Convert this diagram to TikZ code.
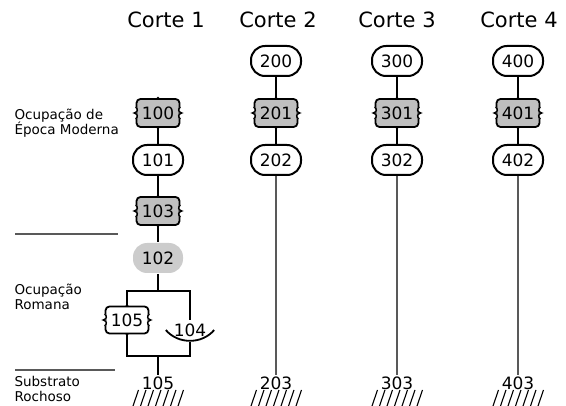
\documentclass[tikz,border=0pt]{standalone}
\usepackage{fontspec}
\setmainfont{DejaVu Sans}
\tikzset{
  unit/.style={draw, line width=2pt, rounded corners=14pt, fill=white,
    minimum width=50pt, minimum height=30pt, inner sep=1pt,
    font=\fontsize{17}{19}\selectfont},
  interf/.style={draw, line width=1.8pt, rounded corners=4pt, fill=gray!50,
    minimum width=43pt, minimum height=28pt, inner sep=1pt,
    font=\fontsize{17}{19}\selectfont},
  fillunit/.style={unit, draw=none, fill=gray!40},
  plain/.style={inner sep=1pt, font=\fontsize{17}{19}\selectfont},
  conn/.style={line width=1.8pt},
  longconn/.style={line width=1.4pt, gray!70!black},
  hatch/.style={line width=1.1pt},
  sep/.style={line width=1.3pt, gray!70!black},
  side/.style={align=left, anchor=west, font=\fontsize{13.5}{15.5}\selectfont},
  head/.style={font=\fontsize{21}{23}\selectfont}
}
% brace-like notches on the sides of a box
\newcommand{\sidenotch}[2]{%
  \fill[white] ([shift={(-1.4pt,-6pt)}]#1.west) rectangle ([shift={(0pt,6pt)}]#1.west);
  \fill[#2] ([shift={(0pt,-6pt)}]#1.west) rectangle ([shift={(1.4pt,6pt)}]#1.west);
  \fill[white] ([shift={(1.4pt,-6pt)}]#1.east) rectangle ([shift={(0pt,6pt)}]#1.east);
  \fill[#2] ([shift={(0pt,-6pt)}]#1.east) rectangle ([shift={(-1.4pt,6pt)}]#1.east);
  \draw[line width=1.4pt] ([shift={(0pt,6pt)}]#1.west)
    .. controls ([shift={(2.5pt,4pt)}]#1.west) and ([shift={(2.5pt,1pt)}]#1.west) .. ([shift={(-1.5pt,0pt)}]#1.west)
    .. controls ([shift={(2.5pt,-1pt)}]#1.west) and ([shift={(2.5pt,-4pt)}]#1.west) .. ([shift={(0pt,-6pt)}]#1.west);
  \draw[line width=1.4pt] ([shift={(0pt,6pt)}]#1.east)
    .. controls ([shift={(-2.5pt,4pt)}]#1.east) and ([shift={(-2.5pt,1pt)}]#1.east) .. ([shift={(1.5pt,0pt)}]#1.east)
    .. controls ([shift={(-2.5pt,-1pt)}]#1.east) and ([shift={(-2.5pt,-4pt)}]#1.east) .. ([shift={(0pt,-6pt)}]#1.east);
  \fill (#1.north) circle (1.5pt);
  \fill (#1.south) circle (1.5pt);
}
\begin{document}
\begin{tikzpicture}[x=1pt,y=-1pt]
\useasboundingbox (0,0) rectangle (566,406);

% Headers
\node[head] (h1) at (166,20) {Corte 1};
\node[head] (h2) at (278,20) {Corte 2};
\node[head] (h3) at (397,20) {Corte 3};
\node[head] (h4) at (519,20) {Corte 4};

% Left labels
\node[side] (l1) at (11,123) {Ocupação de\\Época Moderna};
\node[side] (l2) at (11,297) {Ocupação\\Romana};
\node[side] (l3) at (11,389) {Substrato\\Rochoso};
\draw[sep] (15,234) -- (118,234);
\draw[sep] (15,370) -- (115,370);

% Corte 1
\node[interf] (c100) at (158,113) {100};
\node[unit] (c101) at (158,160) {101};
\node[interf] (c103) at (158,211) {103};
\node[fillunit] (c102) at (158,258) {102};
\node[interf, fill=white, minimum width=43pt, minimum height=27pt] (c105) at (127,320) {105};
\node[plain, minimum width=48pt, minimum height=20pt] (c104) at (190,330) {104};
\node[plain] (c105b) at (158,383) {105};
\coordinate (b1) at (158,291);
\coordinate (br) at (190,291);
\coordinate (bowl) at (190,342);
\coordinate (b2) at (158,356);
\coordinate (br2) at (190,356);

\draw[conn] (c100) -- (c101);
\draw[conn] (c101) -- (c103);
\draw[conn] (c103) -- (c102);
\draw[conn] (c102) -- (b1);
\draw[conn] (c105.north) |- (br) -- (c104.north);
\draw[conn] (c105.south) |- (br2) -- (bowl);
\draw[conn] (c104.west) to[bend right=50] (c104.east);
\draw[conn] (b2) -- (c105b);
\sidenotch{c100}{gray!50}
\sidenotch{c103}{gray!50}
\sidenotch{c105}{white}
\foreach \i in {0,...,6} {
    \draw[hatch] (\i*7.5+133, 406) -- ++(5.5,-16);
}

% Cortes 2 to 4
\foreach \c/\x in {2/276, 3/397, 4/518} {
    \node[unit] (c\c00) at (\x,61) {\c00};
    \node[interf] (c\c01) at (\x,113) {\c01};
    \node[unit] (c\c02) at (\x,160) {\c02};
    \node[plain] (c\c03) at (\x,383) {\c03};
    \draw[conn] (c\c00) -- (c\c01);
    \draw[conn] (c\c01) -- (c\c02);
    \draw[longconn] (c\c02) -- (c\c03);
    \sidenotch{c\c01}{gray!50}
    \foreach \i in {0,...,6} {
        \draw[hatch] (\i*7.5+\x-25, 406) -- ++(5.5,-16);
    }
}

\end{tikzpicture}
\end{document}
